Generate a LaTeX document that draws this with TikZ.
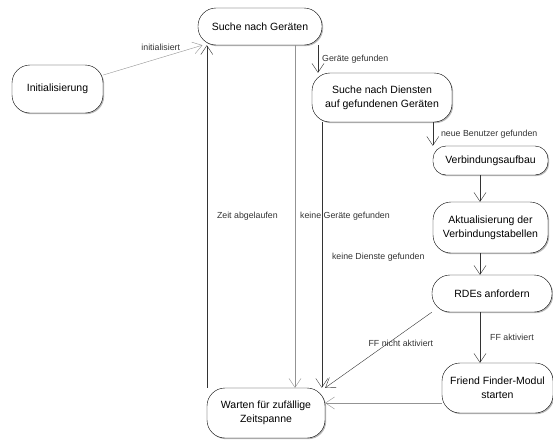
\documentclass[tikz,border=0pt]{standalone}
\usepackage{fontspec}
\setmainfont{Liberation Sans}
\usepackage{tikz}
\usetikzlibrary{arrows.meta,calc,shadows}
\tikzset{
    block/.style = {draw, rectangle, rounded corners=18pt, fill=white,
        drop shadow={shadow xshift=1.2pt, shadow yshift=-1.2pt, fill=black!55, opacity=0.5},
        font=\fontsize{10.5}{14}\selectfont, align=center, inner sep=2pt},
    trans/.style = {draw=black!80, ->},
    translight/.style = {draw=gray!85, ->},
    lbl/.style = {font=\fontsize{8.8}{10}\selectfont, text=black!80, inner sep=1pt}
}

\begin{document}
\begin{tikzpicture}[x=1pt, y=-1pt, >={Straight Barb[length=9pt,width=12pt]}]
    \useasboundingbox (0,0) rectangle (553,439);
    \node [block, minimum width=91pt, minimum height=48pt] (init) at (57.5,89) {Initialisierung};
    \node [block, minimum width=124pt, minimum height=37pt] (suche) at (260,26.5) {Suche nach Geräten};
    \node [block, minimum width=140pt, minimum height=49pt] (dienste) at (382,97.5) {Suche nach Diensten\\auf gefundenen Geräten};
    \node [block, rounded corners=13pt, minimum width=115pt, minimum height=29pt] (verb) at (490.5,160.5) {Verbindungsaufbau};
    \node [block, minimum width=115pt, minimum height=51pt] (akt) at (490.5,227.5) {Aktualisierung der\\Verbindungstabellen};
    \node [block, minimum width=120pt, minimum height=37pt] (rdes) at (492,293.5) {RDEs anfordern};
    \node [block, minimum width=111pt, minimum height=50pt] (friend) at (497.5,388) {Friend Finder-Modul\\starten};
    \node [block, minimum width=118pt, minimum height=50pt] (warten) at (266,413) {Warten für zufällige\\Zeitspanne};
    \coordinate (col) at (480,0);

    \draw [translight] (init.17) -- node [lbl, pos=0.58, above=6pt] {initialisiert} (suche.198);
    \draw [trans] ([xshift=58pt]suche.south) -- node [lbl, right=3pt] {Geräte gefunden} ([xshift=58pt]suche.south |- dienste.north);
    \draw [trans] (verb.north west |- dienste.south) -- node [lbl, right=7pt] {neue Benutzer gefunden} (verb.north west);
    \draw [trans] (verb.south -| col) -- (akt.north -| col);
    \draw [trans] (akt.south -| col) -- (rdes.north -| col);
    \draw [trans] (rdes.south -| col) -- node [lbl, right=9pt] {FF aktiviert} (friend.north -| col);
    \draw [trans] (rdes.south west) -- node [lbl, pos=0.45, xshift=17pt, yshift=3pt] {FF nicht aktiviert} (warten.north east);
    \draw [translight] ([yshift=-15pt]friend.west) -- ([yshift=-15pt]friend.west -| warten.east);
    \draw [trans] (warten.north west) -- node [lbl, right=9pt] {Zeit abgelaufen} (warten.north west |- suche.south);
    \draw [translight] ([xshift=35pt]suche.south) -- node [lbl, right=4pt] {keine Geräte gefunden} ([xshift=35pt]suche.south |- warten.north);
    \draw [trans] ([xshift=10pt]dienste.south west) -- node [lbl, pos=0.51, right=9pt] {keine Dienste gefunden} ([xshift=10pt]dienste.south west |- warten.north);
\end{tikzpicture}
\end{document}
